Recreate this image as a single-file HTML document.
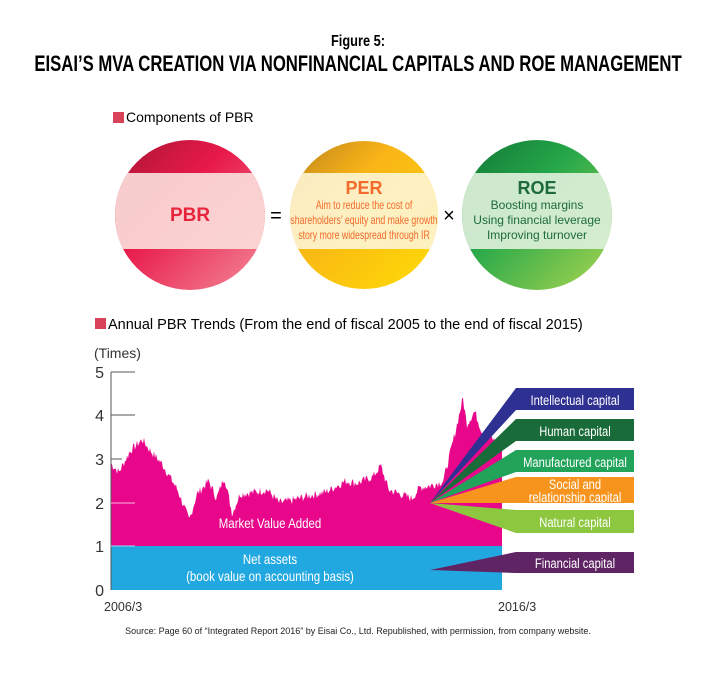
<!DOCTYPE html>
<html><head><meta charset="utf-8"><style>
body{margin:0;background:#fff;width:716px;height:670px;overflow:hidden;font-family:"Liberation Sans",sans-serif}
</style></head><body>
<svg width="716" height="670" xmlns="http://www.w3.org/2000/svg" font-family="Liberation Sans, sans-serif">
<defs>
<linearGradient id="gp" x1="0" y1="0" x2="1" y2="1"><stop offset="0" stop-color="#9a1530"/><stop offset="0.4" stop-color="#e8194a"/><stop offset="1" stop-color="#f5a0a8"/></linearGradient>
<linearGradient id="gy" x1="0" y1="0" x2="1" y2="1"><stop offset="0" stop-color="#b07a20"/><stop offset="0.35" stop-color="#f9b417"/><stop offset="1" stop-color="#ffe600"/></linearGradient>
<linearGradient id="gg" x1="0" y1="0" x2="1" y2="1"><stop offset="0" stop-color="#0c6a30"/><stop offset="0.4" stop-color="#26a84a"/><stop offset="1" stop-color="#c8e050"/></linearGradient>
<clipPath id="c1"><circle cx="190" cy="215" r="75"/></clipPath>
<clipPath id="c2"><circle cx="364" cy="215" r="74"/></clipPath>
<clipPath id="c3"><circle cx="537" cy="215" r="75"/></clipPath>
</defs>
<text x="358" y="46" text-anchor="middle" font-size="16" font-weight="bold" transform="translate(358,0) scale(0.8,1) translate(-358,0)">Figure 5:</text>
<text x="358" y="71" text-anchor="middle" font-size="22" font-weight="bold" transform="translate(358,0) scale(0.76,1) translate(-358,0)">EISAI’S MVA CREATION VIA NONFINANCIAL CAPITALS AND ROE MANAGEMENT</text>
<rect x="113" y="112" width="11" height="11" fill="#d9435a"/>
<text x="126" y="122" font-size="14">Components of PBR</text>
<g clip-path="url(#c1)"><rect x="100" y="130" width="180" height="180" fill="url(#gp)"/><rect x="100" y="173" width="180" height="76" fill="#fbdcd8" opacity="0.93"/></g>
<g clip-path="url(#c2)"><rect x="280" y="130" width="180" height="180" fill="url(#gy)"/><rect x="280" y="173" width="180" height="76" fill="#fdf3cf" opacity="0.93"/></g>
<g clip-path="url(#c3)"><rect x="450" y="130" width="180" height="180" fill="url(#gg)"/><rect x="450" y="173" width="180" height="76" fill="#dcefd8" opacity="0.93"/></g>
<text x="190" y="221" text-anchor="middle" font-size="19" font-weight="bold" fill="#e8243c">PBR</text>
<text x="276" y="222" text-anchor="middle" font-size="20">=</text>
<text x="449" y="222" text-anchor="middle" font-size="20">×</text>
<text x="364" y="194" text-anchor="middle" font-size="18" font-weight="bold" fill="#f26a2c">PER</text>
<g font-size="11.5" fill="#f26a2c" text-anchor="middle" transform="translate(364,0) scale(0.76,1) translate(-364,0)">
<text x="364" y="209">Aim to reduce the cost of</text><text x="364" y="224">shareholders’ equity and make growth</text><text x="364" y="239">story more widespread through IR</text></g>
<text x="537" y="194" text-anchor="middle" font-size="18" font-weight="bold" fill="#1d6b3a">ROE</text>
<g font-size="12" fill="#1d6b3a" text-anchor="middle"><text x="537" y="209">Boosting margins</text><text x="537" y="224">Using financial leverage</text><text x="537" y="239">Improving turnover</text></g>
<rect x="95" y="318" width="11" height="11" fill="#d9435a"/>
<text x="108" y="329" font-size="14.5">Annual PBR Trends (From the end of fiscal 2005 to the end of fiscal 2015)</text>
<text x="94" y="358" font-size="14" fill="#333">(Times)</text>
<g font-size="16" fill="#333" text-anchor="end"><text x="104" y="378">5</text><text x="104" y="421">4</text><text x="104" y="465">3</text><text x="104" y="509">2</text><text x="104" y="552">1</text><text x="104" y="596">0</text></g>
<rect x="111" y="546" width="391" height="44" fill="#22a8e0"/>
<path id="mva" fill="#e8078a" d=""/>
<g stroke="#555" stroke-width="1"><line x1="111" y1="372" x2="111" y2="590"/><line x1="111" y1="372" x2="135" y2="372"/><line x1="111" y1="415" x2="135" y2="415"/><line x1="111" y1="459" x2="122" y2="459"/></g>
<g stroke="#f4b8d8" stroke-width="1"><line x1="111" y1="503" x2="135" y2="503"/></g>
<g stroke="#a0d8f0" stroke-width="1"><line x1="111" y1="546" x2="135" y2="546"/></g>
<polygon points="430,503 516,388 516,410" fill="#2e3192"/>
<polygon points="430,503 516,419 516,441" fill="#1a6b3a"/>
<polygon points="430,503 516,450 516,472" fill="#21a35a"/>
<polygon points="430,503 516,477 516,503" fill="#f7941e"/>
<polygon points="430,503 516,510 516,533" fill="#8dc63f"/>
<polygon points="430,570 516,552 516,573" fill="#5f2464"/>
<rect x="516" y="388" width="118" height="22" fill="#2e3192"/>
<rect x="516" y="419" width="118" height="22" fill="#1a6b3a"/>
<rect x="516" y="450" width="118" height="22" fill="#21a35a"/>
<rect x="516" y="477" width="118" height="26" fill="#f7941e"/>
<rect x="516" y="510" width="118" height="23" fill="#8dc63f"/>
<rect x="516" y="552" width="118" height="21" fill="#5f2464"/>
<g fill="#fff" font-size="14" text-anchor="middle" transform="translate(575,0) scale(0.8,1) translate(-575,0)">
<text x="575" y="405">Intellectual capital</text><text x="575" y="436">Human capital</text><text x="575" y="467">Manufactured capital</text>
<text x="575" y="489">Social and</text><text x="575" y="502">relationship capital</text><text x="575" y="527">Natural capital</text><text x="575" y="568">Financial capital</text></g>
<g fill="#fff" font-size="14" text-anchor="middle" transform="translate(270,0) scale(0.82,1) translate(-270,0)">
<text x="270" y="528">Market Value Added</text><text x="270" y="564">Net assets</text><text x="270" y="581">(book value on accounting basis)</text></g>
<g font-size="12.5" fill="#333"><text x="104" y="611">2006/3</text><text x="498" y="611">2016/3</text></g>
<text x="358" y="634" text-anchor="middle" font-size="9" fill="#222">Source: Page 60 of “Integrated Report 2016” by Eisai Co., Ltd. Republished, with permission, from company website.</text>
</svg>
<script>
(function(){
var k=[[0,2.9],[0.02,2.7],[0.05,3.2],[0.08,3.45],[0.1,3.2],[0.13,2.9],[0.15,2.6],[0.17,2.3],[0.2,1.6],[0.22,2.2],[0.25,2.5],[0.27,2.1],[0.29,2.6],[0.31,1.75],[0.33,2.2],[0.37,2.25],[0.4,2.3],[0.43,2.0],[0.46,2.05],[0.5,2.15],[0.55,2.25],[0.6,2.5],[0.63,2.45],[0.67,2.6],[0.69,2.85],[0.71,2.3],[0.74,2.2],[0.77,2.1],[0.79,2.35],[0.82,2.4],[0.85,2.5],[0.88,3.6],[0.9,4.4],[0.91,3.8],[0.93,4.1],[0.95,3.6],[0.97,3.5],[1,3.3]];
var s=7,r=function(){s=(s*9301+49297)%233280;return s/233280;};
var d="M111,546";
for(var x=111;x<=502;x++){var f=(x-111)/391,i=0;while(i<k.length-2&&k[i+1][0]<f)i++;var a=k[i],b=k[i+1],t=(f-a[0])/(b[0]-a[0]);var v=a[1]+(b[1]-a[1])*t+(r()-0.5)*0.2;d+=" L"+x+","+(590-v*43.6).toFixed(1);}
d+=" L502,546 Z";document.getElementById("mva").setAttribute("d",d);
})();
</script>
</body></html>
